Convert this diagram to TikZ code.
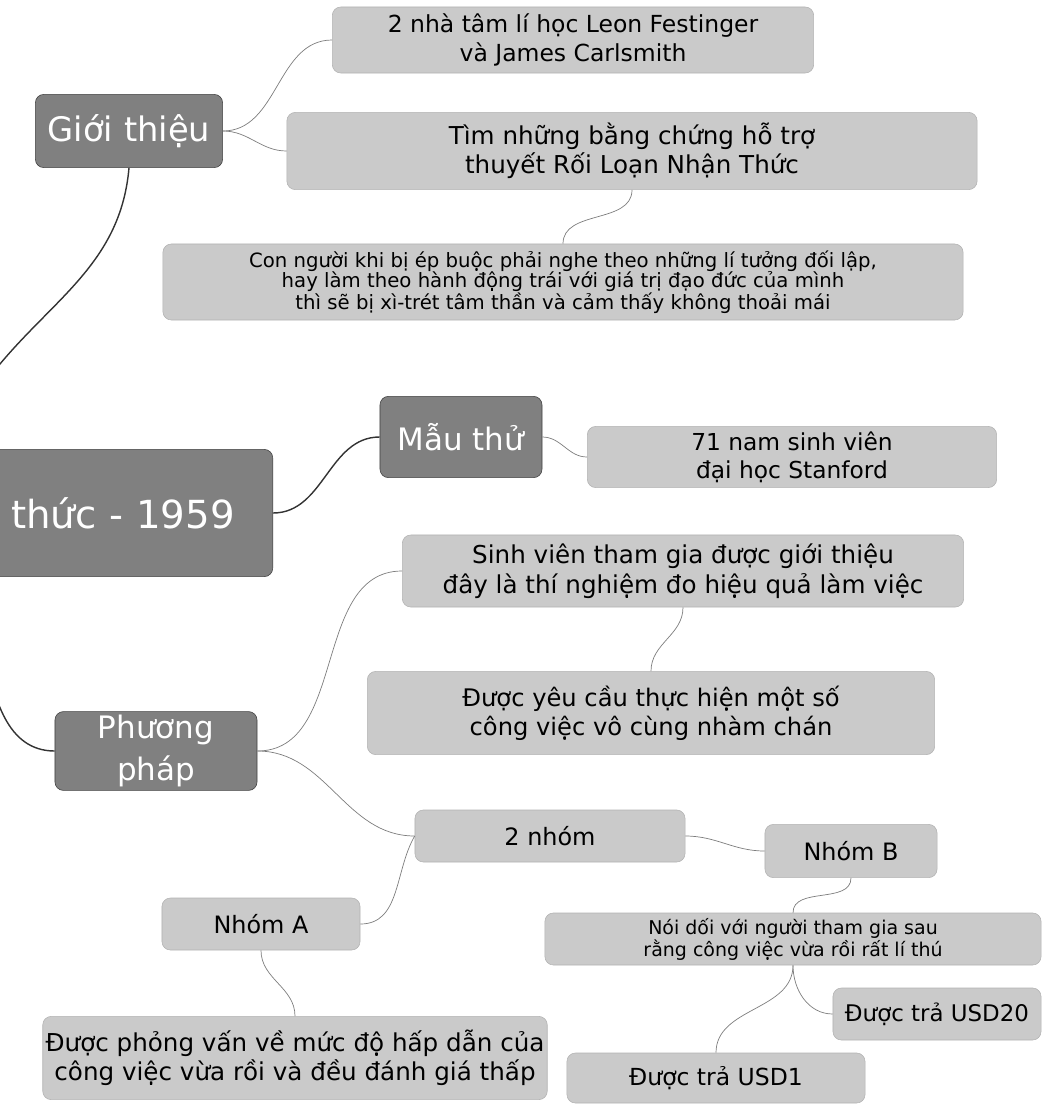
\documentclass[tikz,border=0pt]{standalone}
\usepackage{fontspec}
\setmainfont{DejaVu Sans}
\usepackage{tikz}
\usetikzlibrary{positioning}
\definecolor{topicgray}{RGB}{128,128,128}
\definecolor{leafgray}{RGB}{202,202,202}
\definecolor{edgegray}{RGB}{125,125,125}
\newcommand{\fs}[1]{\fontsize{#1}{1.2\dimexpr#1pt\relax}\selectfont}

\begin{document}
\begin{tikzpicture}[x=0.025cm,y=-0.025cm,
  topic/.style={draw=black!75,rounded corners=6pt,fill=topicgray,text=white,
                align=center,inner sep=2pt},
  leaf/.style ={draw=black!30,rounded corners=6pt,fill=leafgray,
                align=center,inner sep=2pt},
  link/.style ={edgegray,line width=0.5pt},
  mainlink/.style={black!80,line width=1pt},
]
\useasboundingbox (0,0) rectangle (1041,1105);

% central topic, cut off on the left
\node[topic,anchor=east,text width=6cm,align=right,inner xsep=0.95cm,
      minimum height=3.18cm,font=\fs{27.5}] (root) at (273,513) {thức - 1959};
\coordinate (rootgioi) at (-20,390);
\coordinate (rootpp)   at (-15,650);

% main branches
\node[topic,minimum width=4.68cm,minimum height=1.83cm,font=\fs{24}]
  (gioi) at (129,131) {Giới thiệu};
\node[topic,minimum width=4.05cm,minimum height=2.03cm,font=\fs{22}]
  (mau) at (461,437) {Mẫu thử};
\node[topic,minimum width=5.05cm,minimum height=1.97cm,
      font=\fontsize{22}{30}\selectfont]
  (pp) at (156,751) {Phương\\pháp};

% Gioi thieu
\node[leaf,minimum width=12.03cm,minimum height=1.65cm,font=\fs{16.7}]
  (leon) at (573,40) {2 nhà tâm lí học Leon Festinger\\và James Carlsmith};
\node[leaf,minimum width=17.25cm,minimum height=1.93cm,font=\fs{17.5}]
  (tim) at (632,151) {Tìm những bằng chứng hỗ trợ\\thuyết Rối Loạn Nhận Thức};
\node[leaf,minimum width=20cm,minimum height=1.9cm,
      font=\fontsize{14}{14.3}\selectfont]
  (conng) at (563,282)
  {Con người khi bị ép buộc phải nghe theo những lí tưởng đối lập,\\
   hay làm theo hành động trái với giá trị đạo đức của mình\\
   thì sẽ bị xì-trét tâm thần và cảm thấy không thoải mái};

% Mau thu
\node[leaf,minimum width=10.23cm,minimum height=1.53cm,font=\fs{16.6}]
  (sv71) at (792,457) {71 nam sinh viên\\đại học Stanford};

% Phuong phap
\node[leaf,minimum width=14.03cm,minimum height=1.8cm,font=\fs{17.5}]
  (svtg) at (683,571)
  {Sinh viên tham gia được giới thiệu\\đây là thí nghiệm đo hiệu quả làm việc};
\node[leaf,minimum width=14.18cm,minimum height=2.08cm,font=\fs{17.2}]
  (yeucau) at (651,713)
  {Được yêu cầu thực hiện một số\\công việc vô cùng nhàm chán};
\node[leaf,minimum width=6.75cm,minimum height=1.3cm,font=\fs{17}]
  (hainhom) at (550,836) {2 nhóm};
\node[leaf,minimum width=4.3cm,minimum height=1.33cm,font=\fs{17}]
  (nhomB) at (851,851) {Nhóm B};
\node[leaf,minimum width=4.95cm,minimum height=1.3cm,font=\fs{17}]
  (nhomA) at (261,924) {Nhóm A};
\node[leaf,minimum width=12.4cm,minimum height=1.3cm,
      font=\fontsize{13.5}{14.2}\selectfont]
  (noidoi) at (793,939)
  {Nói dối với người tham gia sau\\rằng công việc vừa rồi rất lí thú};
\node[leaf,minimum width=5.2cm,minimum height=1.3cm,font=\fs{16.3}]
  (usd20) at (937,1014) {Được trả USD20};
\node[leaf,minimum width=12.5cm,minimum height=2.08cm,font=\fs{17.5}]
  (phongvan) at (295,1058)
  {Được phỏng vấn về mức độ hấp dẫn của\\công việc vừa rồi và đều đánh giá thấp};
\node[leaf,minimum width=7.45cm,minimum height=1.25cm,font=\fs{16.7}]
  (usd1) at (716,1078) {Được trả USD1};

% connectors from the central topic
\draw[mainlink] (root.east) to[out=0,in=180] (mau.west);
\draw[mainlink] (rootgioi) to[out=55,in=-95] (gioi.south);
\draw[mainlink] (rootpp) to[out=-80,in=180] (pp.west);

% connectors inside the branches
\draw[link] (gioi.east) to[out=0,in=180] (leon.west);
\draw[link] (gioi.east) to[out=0,in=180] (tim.west);
\draw[link] (tim.south) to[out=-90,in=90] (conng.north);
\draw[link] (mau.east) to[out=0,in=180] (sv71.west);
\draw[link] (pp.east) to[out=0,in=180] (svtg.west);
\draw[link] (pp.east) to[out=0,in=180] (hainhom.west);
\draw[link] (svtg.south) to[out=-90,in=90] (yeucau.north);
\draw[link] (hainhom.west) to[out=240,in=0] (nhomA.east);
\draw[link] (hainhom.east) to[out=0,in=180] (nhomB.west);
\draw[link] (nhomB.south) to[out=-90,in=90] (noidoi.north);
\draw[link] (nhomA.south) to[out=-90,in=90] (phongvan.north);
\draw[link] (noidoi.south) to[out=-90,in=180] (usd20.west);
\draw[link] (noidoi.south) to[out=-90,in=90] (usd1.north);
\end{tikzpicture}
\end{document}
